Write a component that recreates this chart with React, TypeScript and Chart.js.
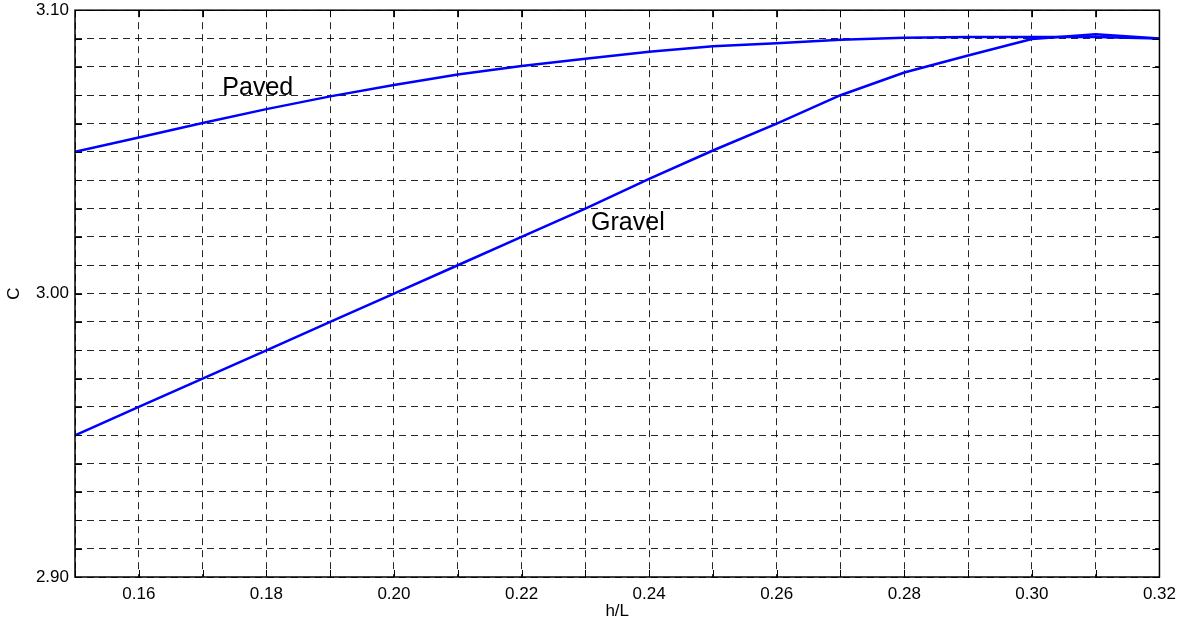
import React, { useEffect, useRef } from "react";
import { Chart, registerables } from "chart.js";

Chart.register(...registerables);

const hL: number[] = [0.15, 0.16, 0.17, 0.18, 0.19, 0.2, 0.21, 0.22, 0.23, 0.24, 0.25, 0.26, 0.27, 0.28, 0.29, 0.3, 0.31, 0.32];
const paved: number[] = [3.05, 3.0551, 3.0602, 3.0651, 3.0696, 3.0736, 3.0773, 3.0803, 3.0829, 3.0853, 3.0873, 3.0883, 3.0896, 3.0903, 3.0905, 3.0905, 3.0905, 3.09];
const gravel: number[] = [2.95, 2.96, 2.97, 2.98, 2.99, 3.0, 3.01, 3.02, 3.03, 3.0405, 3.0505, 3.06, 3.07, 3.078, 3.084, 3.0898, 3.0915, 3.09];
const xLabeled: string[] = ["0.16", "0.18", "0.20", "0.22", "0.24", "0.26", "0.28", "0.30", "0.32"];
const yLabeled: string[] = ["2.90", "3.00", "3.10"];
const annotations: { text: string; x: number; y: number }[] = [
  { text: "Paved", x: 0.1731, y: 3.07 },
  { text: "Gravel", x: 0.2309, y: 3.0226 },
];

const FONT = "'Liberation Sans', Arial, Helvetica, sans-serif";
const CW = 1183;
const CH = 628;

const boxPlugin = {
  id: "boxAndTicks",
  afterDatasetsDraw(chart: any) {
    const { ctx, chartArea, scales } = chart;
    const { left, right, top, bottom } = chartArea;
    ctx.save();
    ctx.strokeStyle = "#000";
    ctx.lineWidth = 1;
    ctx.setLineDash([]);
    const tl = 7;
    ctx.beginPath();
    scales.x.ticks.forEach((t: any) => {
      const px = Math.round(scales.x.getPixelForValue(t.value)) + 0.5;
      ctx.moveTo(px, bottom);
      ctx.lineTo(px, bottom - tl);
      ctx.moveTo(px, top);
      ctx.lineTo(px, top + tl);
    });
    scales.y.ticks.forEach((t: any) => {
      const py = Math.round(scales.y.getPixelForValue(t.value)) + 0.5;
      ctx.moveTo(left, py);
      ctx.lineTo(left + tl, py);
      ctx.moveTo(right, py);
      ctx.lineTo(right - tl, py);
    });
    ctx.stroke();
    ctx.lineWidth = 1.5;
    ctx.strokeRect(left, top, right - left, bottom - top);
    ctx.fillStyle = "#000";
    ctx.font = `25px ${FONT}`;
    ctx.textAlign = "left";
    ctx.textBaseline = "alphabetic";
    annotations.forEach((a) => {
      ctx.fillText(a.text, scales.x.getPixelForValue(a.x), scales.y.getPixelForValue(a.y));
    });
    ctx.restore();
  },
};

export default function App() {
  const ref = useRef<HTMLCanvasElement | null>(null);
  useEffect(() => {
    if (!ref.current) return;
    const chart = new Chart(ref.current, {
      type: "line",
      data: {
        datasets: [
          {
            label: "Paved",
            data: hL.map((x, i) => ({ x, y: paved[i] })),
            borderColor: "#0000ff",
            borderWidth: 2.5,
            pointRadius: 0,
            tension: 0,
            fill: false,
          },
          {
            label: "Gravel",
            data: hL.map((x, i) => ({ x, y: gravel[i] })),
            borderColor: "#0000ff",
            borderWidth: 2.5,
            pointRadius: 0,
            tension: 0,
            fill: false,
          },
        ],
      },
      options: {
        animation: false,
        responsive: false,
        maintainAspectRatio: false,
        layout: { padding: { top: 4, right: 0, left: 4, bottom: 0 } },
        plugins: { legend: { display: false }, tooltip: { enabled: false } },
        scales: {
          x: {
            type: "linear",
            min: 0.15,
            max: 0.32,
            afterFit: (s: any) => {
              s.height = 45;
            },
            ticks: {
              stepSize: 0.01,
              autoSkip: false,
              maxRotation: 0,
              padding: 7,
              color: "#000",
              font: { family: FONT, size: 17 },
              callback: (v: any) => {
                const s = Number(v).toFixed(2);
                return xLabeled.includes(s) ? s : "";
              },
            },
            grid: {
              drawTicks: false,
              color: "rgba(0,0,0,0.85)",
              lineWidth: 1,
            },
            border: { display: false, dash: [7, 5] },
            title: {
              display: true,
              text: "h/L",
              color: "#000",
              font: { family: FONT, size: 17 },
              padding: { top: 0, bottom: 0 },
            },
          },
          y: {
            type: "linear",
            min: 2.9,
            max: 3.1,
            afterFit: (s: any) => {
              s.width = 71;
            },
            ticks: {
              stepSize: 0.01,
              autoSkip: false,
              padding: 6,
              color: "#000",
              font: { family: FONT, size: 17 },
              callback: (v: any) => {
                const s = Number(v).toFixed(2);
                return yLabeled.includes(s) ? s : "";
              },
            },
            grid: {
              drawTicks: false,
              color: "rgba(0,0,0,0.85)",
              lineWidth: 1,
            },
            border: { display: false, dash: [7, 5] },
            title: {
              display: true,
              text: "C",
              color: "#000",
              font: { family: FONT, size: 17 },
              padding: { top: 0, bottom: 0 },
            },
          },
        },
      },
      plugins: [boxPlugin],
    });
    return () => chart.destroy();
  }, []);
  return (
    <div style={{ position: "fixed", left: 0, top: 0, width: 1177, height: 622, background: "#fff", overflow: "hidden" }}>
      <canvas
        ref={ref}
        width={CW}
        height={CH}
        style={{ position: "absolute", left: 0, top: -6, width: CW, height: CH }}
      />
    </div>
  );
}
